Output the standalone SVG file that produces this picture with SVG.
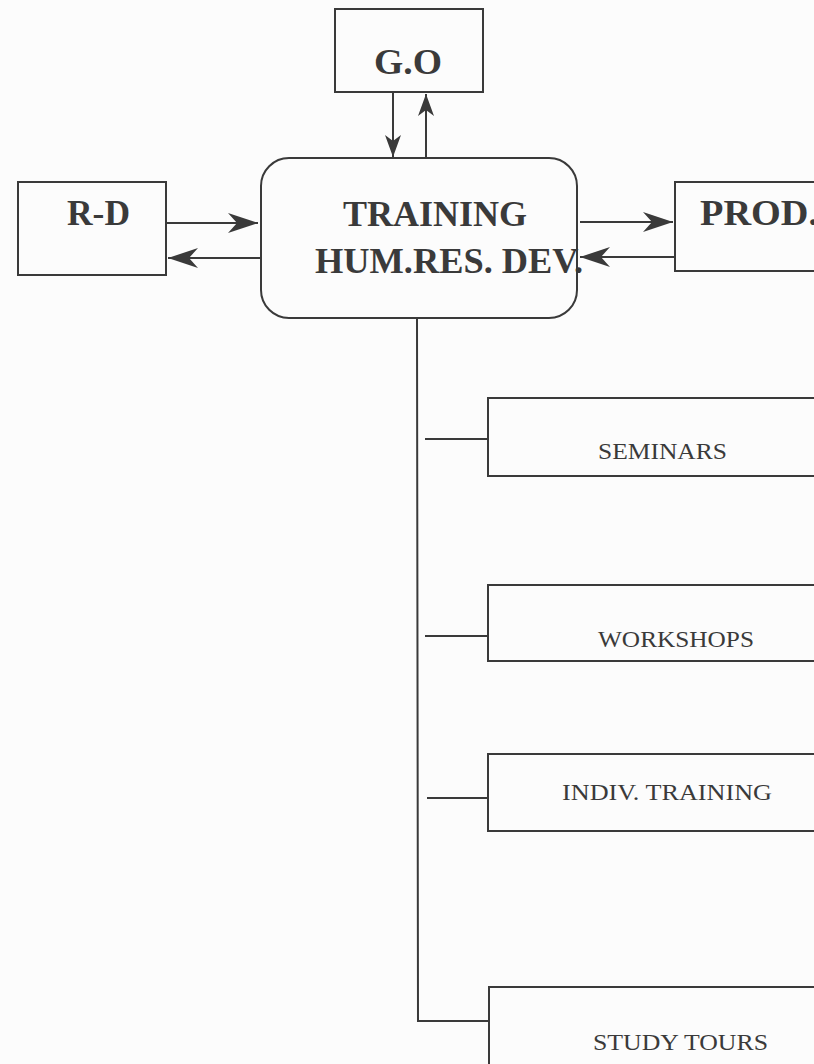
<svg xmlns="http://www.w3.org/2000/svg" width="814" height="1064" viewBox="0 0 814 1064">
<style>
.box{fill:none;stroke:#3a3a3a;stroke-width:2}
.ln{fill:none;stroke:#3a3a3a;stroke-width:2}
.big{font-family:"Liberation Serif",serif;font-weight:bold;font-size:36px;fill:#3a3a3a}
.sm{font-family:"Liberation Serif",serif;font-size:24px;fill:#3a3a3a}
</style>
<defs>
<marker id="ah" viewBox="-32 -11 34 22" refX="0" refY="0" markerWidth="34" markerHeight="22" markerUnits="userSpaceOnUse" orient="auto">
<path d="M0,0 L-30,-10 L-21,0 L-30,10 Z" fill="#3a3a3a"/>
</marker>
<marker id="ahs" viewBox="-24 -9 26 18" refX="0" refY="0" markerWidth="26" markerHeight="18" markerUnits="userSpaceOnUse" orient="auto">
<path d="M0,0 L-22,-8 L-16,0 L-22,8 Z" fill="#3a3a3a"/>
</marker>
</defs>
<rect width="814" height="1064" fill="#fcfcfc"/>
<g id="connectors">
<line class="ln" x1="393" y1="92" x2="393" y2="157" marker-end="url(#ahs)"/>
<line class="ln" x1="426" y1="157" x2="426" y2="94" marker-end="url(#ahs)"/>
<line class="ln" x1="167" y1="223" x2="258" y2="223" marker-end="url(#ah)"/>
<line class="ln" x1="260" y1="258" x2="168" y2="258" marker-end="url(#ah)"/>
<line class="ln" x1="580" y1="222" x2="673" y2="222" marker-end="url(#ah)"/>
<line class="ln" x1="675" y1="257" x2="580" y2="257" marker-end="url(#ah)"/>
<polyline class="ln" points="417,318 418,1021 489,1021"/>
<line class="ln" x1="425" y1="439" x2="488" y2="439"/>
<line class="ln" x1="425" y1="636" x2="488" y2="636"/>
<line class="ln" x1="427" y1="798" x2="488" y2="798"/>
</g>
<g id="go">
<rect class="box" x="335" y="9" width="148" height="83"/>
<text class="big" x="374" y="74" textLength="68" lengthAdjust="spacingAndGlyphs">G.O</text>
</g>
<g id="training">
<rect class="box" x="261" y="158" width="316" height="160" rx="28" ry="28"/>
<text class="big" x="343" y="226" textLength="184" lengthAdjust="spacingAndGlyphs">TRAINING</text>
<text class="big" x="315" y="273" textLength="268" lengthAdjust="spacingAndGlyphs">HUM.RES. DEV.</text>
</g>
<g id="rd">
<rect class="box" x="18" y="182" width="148" height="93"/>
<text class="big" x="67" y="225" textLength="63" lengthAdjust="spacingAndGlyphs">R-D</text>
</g>
<g id="prod">
<rect class="box" x="675" y="182" width="160" height="89"/>
<text class="big" x="700" y="225" textLength="118" lengthAdjust="spacingAndGlyphs">PROD.</text>
</g>
<g id="seminars">
<rect class="box" x="488" y="398" width="340" height="78"/>
<text class="sm" x="598" y="459" textLength="129" lengthAdjust="spacingAndGlyphs">SEMINARS</text>
</g>
<g id="workshops">
<rect class="box" x="488" y="585" width="340" height="76"/>
<text class="sm" x="598" y="647" textLength="156" lengthAdjust="spacingAndGlyphs">WORKSHOPS</text>
</g>
<g id="indiv">
<rect class="box" x="488" y="754" width="340" height="77"/>
<text class="sm" x="562" y="800" textLength="210" lengthAdjust="spacingAndGlyphs">INDIV. TRAINING</text>
</g>
<g id="study">
<rect class="box" x="489" y="987" width="340" height="90"/>
<text class="sm" x="593" y="1050" textLength="175" lengthAdjust="spacingAndGlyphs">STUDY TOURS</text>
</g>
</svg>
